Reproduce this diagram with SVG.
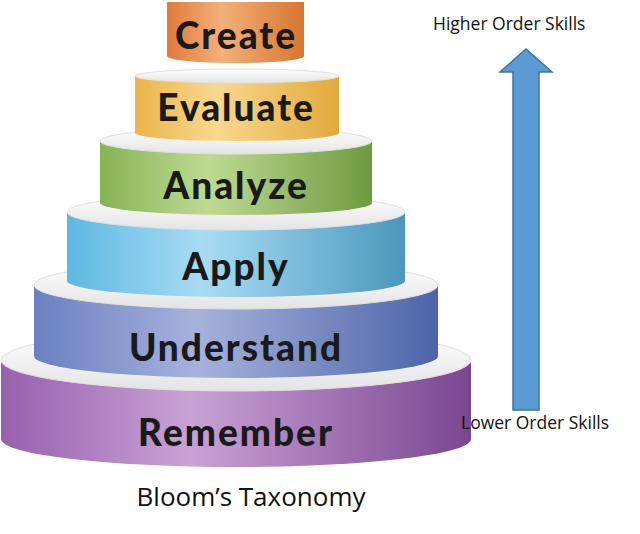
<svg xmlns="http://www.w3.org/2000/svg" width="640" height="534" viewBox="0 0 640 534">
<defs>
<linearGradient id="gO" x1="0" x2="1"><stop offset="0" stop-color="#E07A3A"/><stop offset="0.4" stop-color="#F4B07A"/><stop offset="1" stop-color="#D77630"/></linearGradient>
<linearGradient id="gY" x1="0" x2="1"><stop offset="0" stop-color="#EBB54A"/><stop offset="0.4" stop-color="#F8D88E"/><stop offset="1" stop-color="#E3A93A"/></linearGradient>
<linearGradient id="gG" x1="0" x2="1"><stop offset="0" stop-color="#86B454"/><stop offset="0.4" stop-color="#BEDA92"/><stop offset="1" stop-color="#6E9A40"/></linearGradient>
<linearGradient id="gB" x1="0" x2="1"><stop offset="0" stop-color="#5DB8E2"/><stop offset="0.4" stop-color="#A8DCF4"/><stop offset="1" stop-color="#4A98BC"/></linearGradient>
<linearGradient id="gU" x1="0" x2="1"><stop offset="0" stop-color="#6A80C2"/><stop offset="0.4" stop-color="#A7B2DC"/><stop offset="1" stop-color="#4D64A8"/></linearGradient>
<linearGradient id="gP" x1="0" x2="1"><stop offset="0" stop-color="#9760AE"/><stop offset="0.4" stop-color="#C9A2D6"/><stop offset="1" stop-color="#7A4690"/></linearGradient>
<linearGradient id="gW" x1="0" y1="0" x2="0" y2="1"><stop offset="0" stop-color="#FFFFFF"/><stop offset="1" stop-color="#E4E4E4"/></linearGradient>
</defs>
<style>
.lbl{font-family:Lato,"Liberation Sans",sans-serif;font-weight:900;font-size:37px;letter-spacing:2px;fill:#1a1a1a;text-anchor:middle}
.top{fill:url(#gW);stroke:#e0e0e0;stroke-width:1}
.side{font-family:"Open Sans","Liberation Sans",sans-serif;font-size:17.5px;fill:#111}
</style>
<g id="remember">
<path d="M1,360 L1,439 A235,28 0 0 0 471,439 L471,360 Z" fill="url(#gP)"/>
<ellipse class="top" cx="236" cy="360" rx="235" ry="31"/>
<text class="lbl" x="236" y="446">Remember</text>
</g>
<g id="understand">
<path d="M34,285 L34,356 A202,22 0 0 0 438,356 L438,285 Z" fill="url(#gU)"/>
<ellipse class="top" cx="236" cy="285" rx="202" ry="24"/>
<text class="lbl" x="236" y="361">Understand</text>
</g>
<g id="apply">
<path d="M67,212 L67,281 A169,16 0 0 0 405,281 L405,212 Z" fill="url(#gB)"/>
<ellipse class="top" cx="236" cy="212" rx="169" ry="18"/>
<text class="lbl" x="236" y="280">Apply</text>
</g>
<g id="analyze">
<path d="M100,141 L100,203 A136,12 0 0 0 372,203 L372,141 Z" fill="url(#gG)"/>
<ellipse class="top" cx="236" cy="141" rx="136" ry="13"/>
<text class="lbl" x="236" y="199">Analyze</text>
</g>
<g id="evaluate">
<path d="M135,76 L135,133 A102,8 0 0 0 339,133 L339,76 Z" fill="url(#gY)"/>
<ellipse class="top" cx="237" cy="76" rx="102" ry="7"/>
<text class="lbl" x="236" y="121">Evaluate</text>
</g>
<g id="create">
<path d="M167,2 L167,56 A68,7 0 0 0 304,56 L304,2 Z" fill="url(#gO)"/>
<text class="lbl" x="236" y="49">Create</text>
</g>
<g id="connectors">
<path d="M513,410 L513,72 L500,72 L526,49 L552,72 L539,72 L539,410 Z" fill="#5B9BD5" stroke="#41719C" stroke-width="1.5"/>
</g>
<text class="side" x="433" y="30">Higher Order Skills</text>
<text class="side" x="461" y="429">Lower Order Skills</text>
<text x="251" y="506" text-anchor="middle" style="font-family:'Open Sans','Liberation Sans',sans-serif;font-size:26px;fill:#111">Bloom’s Taxonomy</text>
</svg>
